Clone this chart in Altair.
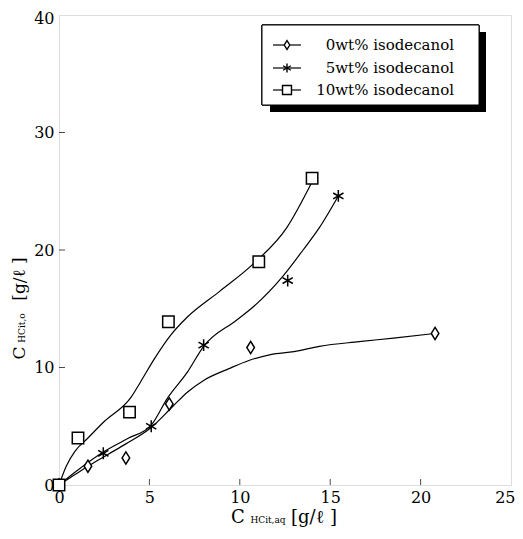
import altair as alt
import pandas as pd

# ---------------- data ----------------
series = ["0wt% isodecanol", "5wt% isodecanol", "10wt% isodecanol"]

p0_x = [0, 1.6, 3.7, 6.1, 10.6, 20.8]
p0_y = [0, 1.6, 2.3, 6.9, 11.7, 12.9]
p5_x = [0, 2.45, 5.1, 8.0, 12.65, 15.45]
p5_y = [0, 2.7, 5.0, 11.9, 17.4, 24.6]
p10_x = [0, 1.05, 3.9, 6.05, 11.05, 14.0]
p10_y = [0, 4.0, 6.2, 13.9, 19.0, 26.1]

c0_x = [0, 0.8, 1.6, 2.7, 3.7, 5.1, 6.3, 7.1, 8.0, 9.4, 10.5, 11.7, 13.0, 14.4, 16.6, 18.5, 20.8]
c0_y = [0, 0.8, 1.6, 2.6, 3.5, 4.9, 6.7, 7.9, 8.9, 9.9, 10.6, 11.1, 11.35, 11.8, 12.2, 12.5, 12.9]
c5_x = [0, 0.9, 2.45, 3.8, 5.1, 6.0, 7.1, 8.0, 9.8, 10.7, 12.4, 13.5, 14.4, 15.45]
c5_y = [0, 1.1, 2.8, 3.95, 5.1, 7.4, 9.6, 11.8, 14.0, 15.1, 17.8, 20.0, 21.9, 24.6]
c10_x = [0, 0.4, 0.9, 1.6, 2.5, 4.0, 4.5, 5.3, 6.2, 7.1, 8.9, 10.7, 12.6, 14.0]
c10_y = [0, 1.6, 2.9, 4.0, 5.4, 7.5, 8.75, 10.8, 12.8, 14.3, 16.5, 18.75, 21.9, 25.8]

x_ticks = [0, 5, 10, 15, 20, 25]
y_ticks = [0, 10, 20, 30, 40]
x_inner_ticks = [5, 10, 15, 20]
y_inner_ticks = [10, 20, 30]

FONT = "DejaVu Serif"

pts = pd.concat([
    pd.DataFrame({"x": p0_x, "y": p0_y, "series": series[0]}),
    pd.DataFrame({"x": p5_x, "y": p5_y, "series": series[1]}),
    pd.DataFrame({"x": p10_x, "y": p10_y, "series": series[2]}),
])
curves = pd.concat([
    pd.DataFrame({"x": c0_x, "y": c0_y, "series": series[0]}),
    pd.DataFrame({"x": c5_x, "y": c5_y, "series": series[1]}),
    pd.DataFrame({"x": c10_x, "y": c10_y, "series": series[2]}),
])

diamond = "M0,-1L0.62,0L0,1L-0.62,0Z"
asterisk = "M0,-1L0,1M-0.87,-0.5L0.87,0.5M-0.87,0.5L0.87,-0.5"
square = "M-1,-1L1,-1L1,1L-1,1Z"
shape_scale = alt.Scale(domain=series, range=[diamond, asterisk, square])
size_scale = alt.Scale(domain=series, range=[150, 130, 110])

xs = alt.Scale(domain=[0, 25], nice=False, zero=False)
ys = alt.Scale(domain=[0, 40], nice=False, zero=False)

x_axis = alt.Axis(values=x_ticks, title=None, grid=False, ticks=False, domain=False,
                  labelFont=FONT, labelFontSize=16, labelPadding=4, labelColor="black",
                  labelFlush=False, labelOverlap=False,
                  labelAlign={"condition": {"test": "datum.value == 25", "value": "right"}, "value": "center"},
                  labelOffset={"condition": {"test": "datum.value == 25", "value": 4}, "value": 0})
y_axis = alt.Axis(values=y_ticks, title=None, grid=False, ticks=False, domain=False,
                  labelFont=FONT, labelFontSize=16, labelPadding=5, labelColor="black",
                  labelFlush=False, labelOverlap=False,
                  labelOffset={"condition": {"test": "datum.value == 40", "value": 3}, "value": 0})

lines = alt.Chart(curves).mark_line(color="black", strokeWidth=1.2, interpolate="monotone").encode(
    x=alt.X("x:Q", scale=xs, axis=x_axis),
    y=alt.Y("y:Q", scale=ys, axis=y_axis),
    detail="series:N",
    order="x:Q",
)

points = alt.Chart(pts).mark_point(filled=True, fill="white", stroke="black", strokeWidth=1.5, opacity=1).encode(
    x=alt.X("x:Q", scale=xs),
    y=alt.Y("y:Q", scale=ys),
    shape=alt.Shape("series:N", scale=shape_scale, legend=None),
    size=alt.Size("series:N", scale=size_scale, legend=None),
)

xt = alt.Chart(pd.DataFrame({"v": x_inner_ticks})).mark_tick(
    orient="vertical", color="black", size=6, thickness=1).encode(
    x=alt.X("v:Q", scale=xs), y=alt.value(467))
yt = alt.Chart(pd.DataFrame({"v": y_inner_ticks})).mark_tick(
    orient="horizontal", color="black", size=6, thickness=1).encode(
    y=alt.Y("v:Q", scale=ys), x=alt.value(3))

# ---------------- legend (hand drawn box with shadow) ----------------
leg = pd.DataFrame({"series": series, "ly": [30, 53, 75]})
shadow = alt.Chart(leg).mark_rect(color="black").encode(
    x=alt.value(211), x2=alt.value(427), y=alt.value(17), y2=alt.value(97))
box = alt.Chart(leg).mark_rect(fill="white", stroke="black", strokeWidth=1).encode(
    x=alt.value(203), x2=alt.value(420), y=alt.value(10), y2=alt.value(90))
leg_lines = alt.Chart(leg).mark_rule(color="black", strokeWidth=1.2).encode(
    x=alt.value(214), x2=alt.value(242), y=alt.Y("ly:Q", scale=None))
leg_pts = alt.Chart(leg).mark_point(filled=True, fill="white", stroke="black", strokeWidth=1.4, opacity=1).encode(
    x=alt.value(228), y=alt.Y("ly:Q", scale=None),
    shape=alt.Shape("series:N", scale=shape_scale, legend=None),
    size=alt.value(80))
leg_txt = alt.Chart(leg).mark_text(align="right", baseline="middle", font=FONT, fontSize=15, color="black").encode(
    x=alt.value(395), y=alt.Y("ly:Q", scale=None), text="series:N")

# ---------------- axis titles with subscripts ----------------
tdf = pd.DataFrame({"a": [0]})
def tx(s, x, y, size, angle=0, align="center"):
    return alt.Chart(tdf).mark_text(text=s, font=FONT, fontSize=size, color="black",
                                    align=align, baseline="alphabetic", angle=angle).encode(
        x=alt.value(x), y=alt.value(y))

xtitle = tx("C", 179, 508, 18) + tx("HCit,aq", 209, 508, 9) + tx("[g/ℓ ]", 255, 508, 18)
ytitle = (tx("C", -34, 338, 17, angle=270) + tx("HCit,o", -34, 313, 9, angle=270)
          + tx("[g/ℓ ]", -34, 264, 17, angle=270))

chart = alt.layer(
    lines, points, xt, yt, shadow, box, leg_lines, leg_pts, leg_txt, xtitle, ytitle
).properties(
    width=452, height=470,
    autosize=alt.AutoSizeParams(type="none"),
    padding={"left": 51, "top": 7, "right": 4, "bottom": 44},
).configure_view(stroke="black", strokeWidth=1.3).configure(background="white")

chart.save("out.html", embed_options={"renderer": "svg", "actions": False})
